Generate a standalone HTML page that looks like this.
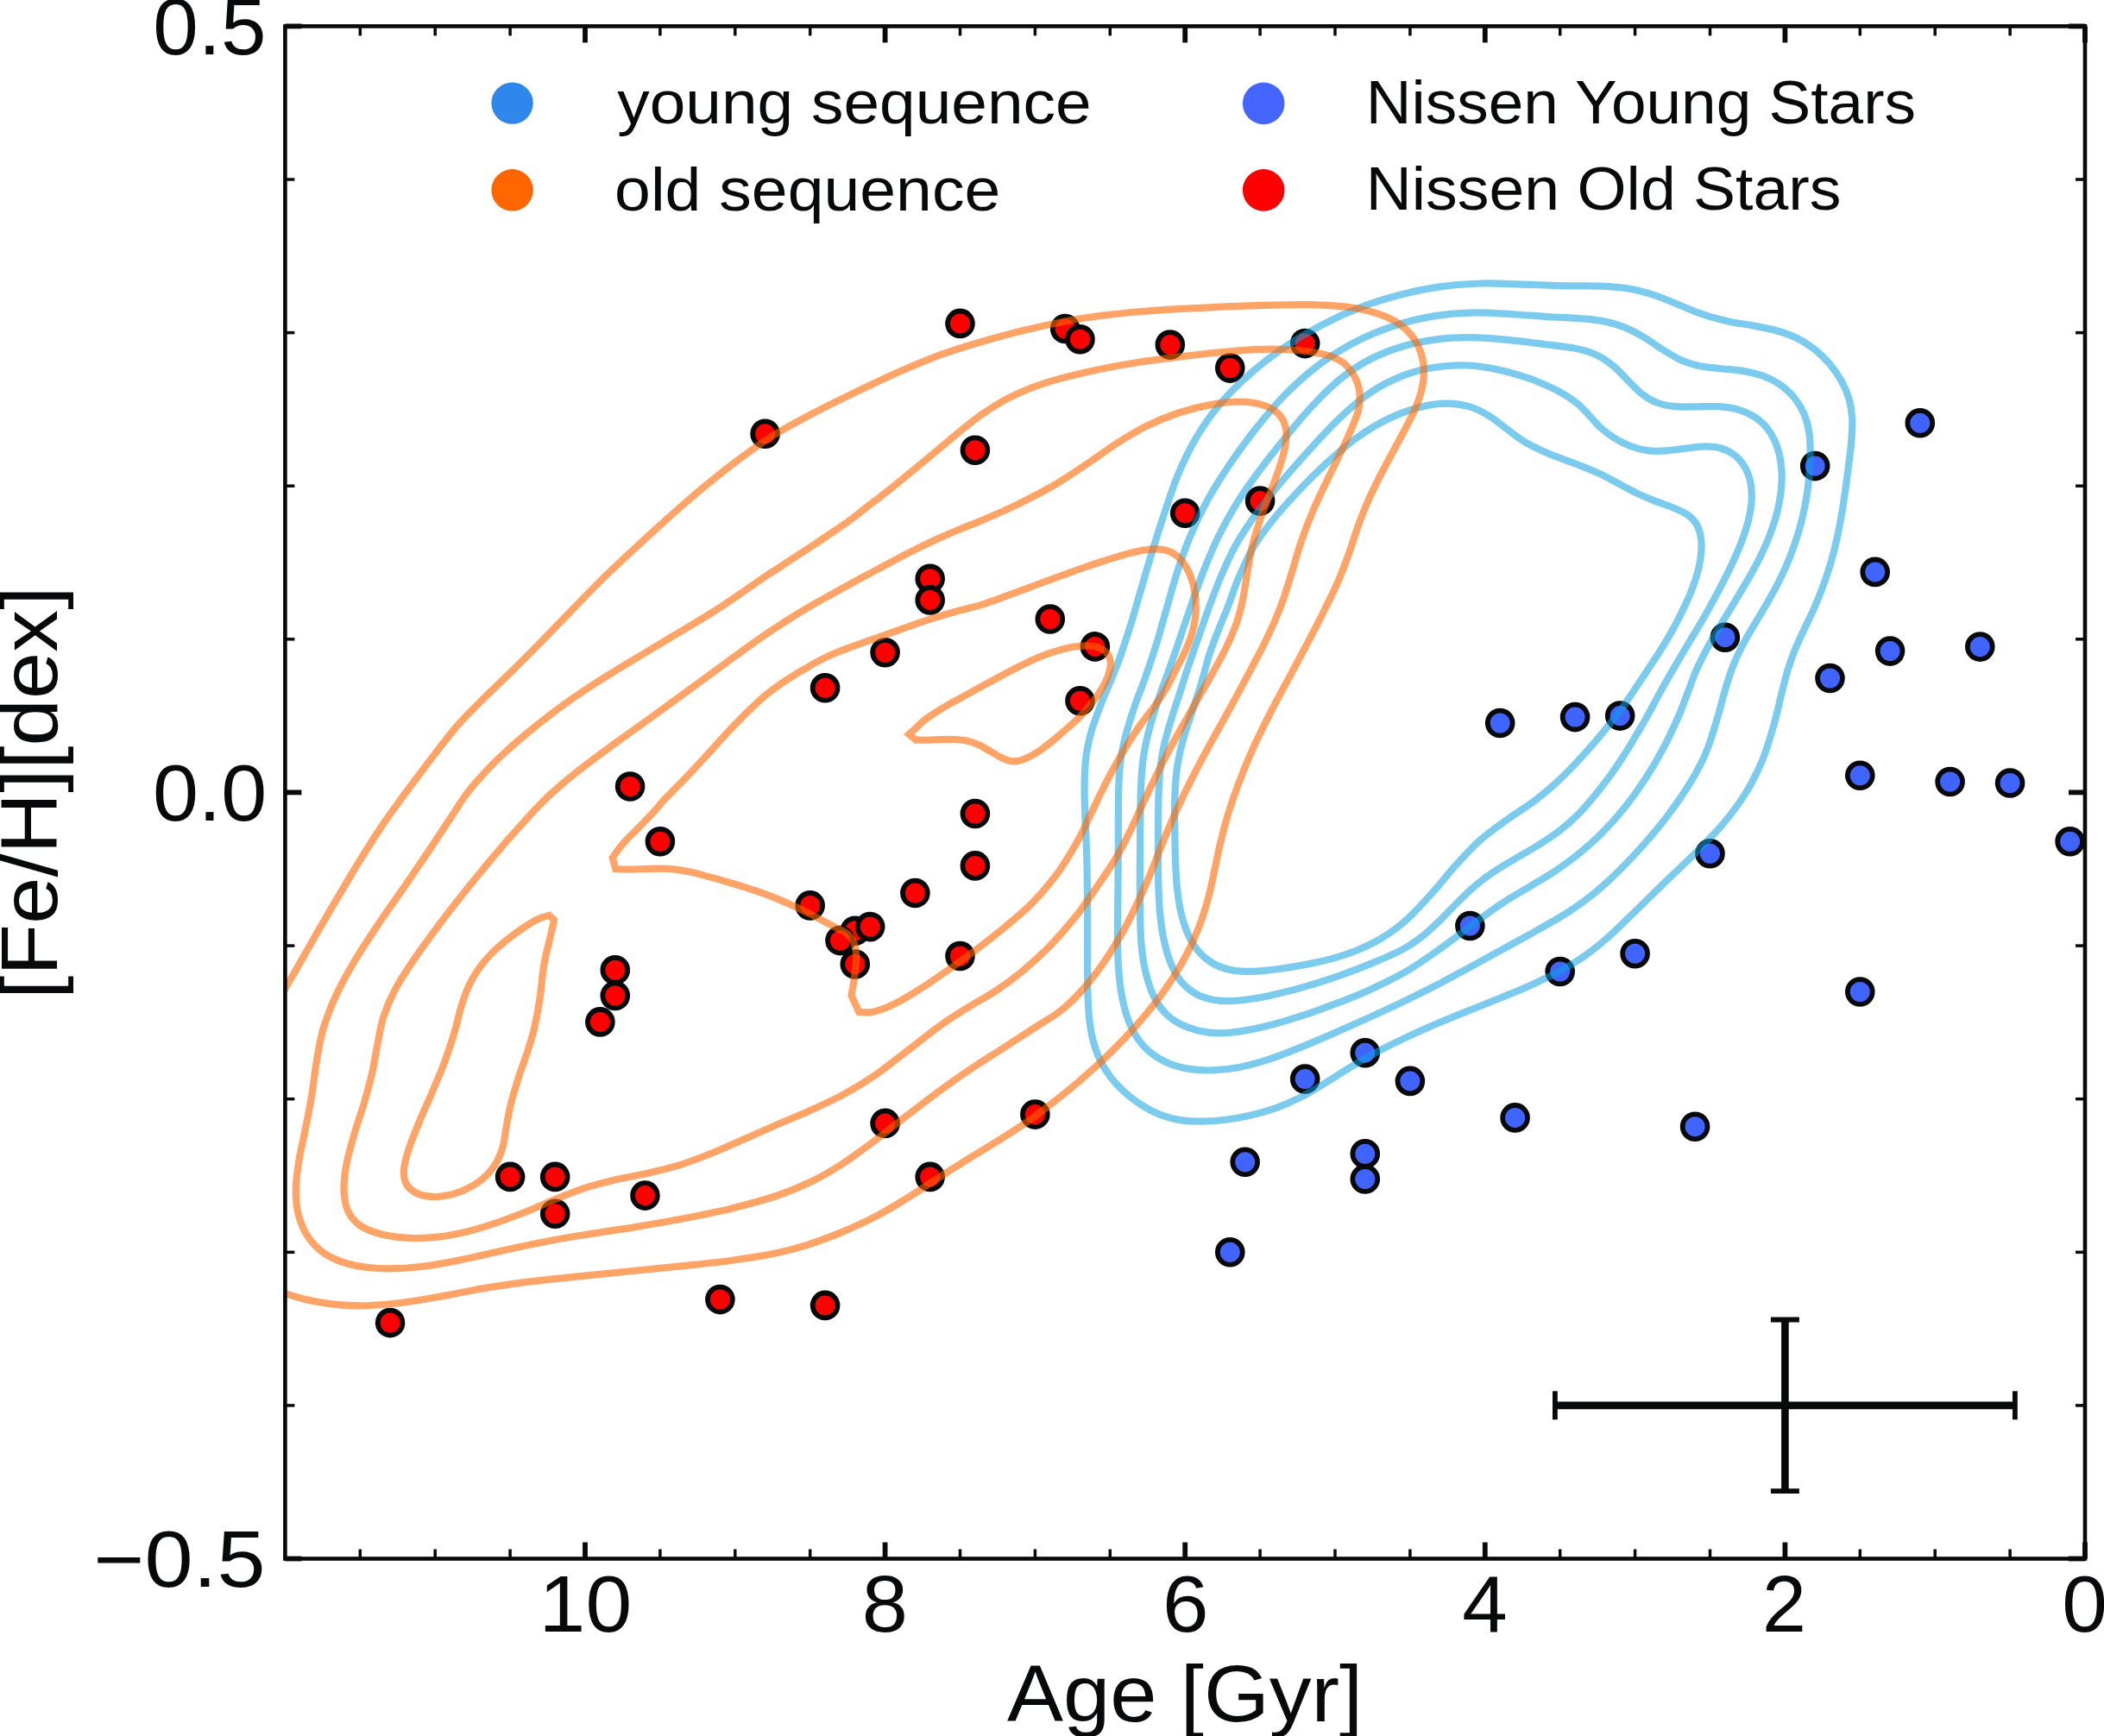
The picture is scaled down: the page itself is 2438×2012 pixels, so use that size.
<!DOCTYPE html>
<html lang="en"><head><meta charset="utf-8"><title>Age vs [Fe/H]</title>
<style>
html,body{margin:0;padding:0;background:#fff;}
body{width:2438px;height:2012px;overflow:hidden;}
svg{display:block;}
text{font-family:"Liberation Sans",sans-serif;fill:#08090b;}
.red circle{fill:#ff0000;stroke:#08090b;stroke-width:5.8;}
.blu circle{fill:#4064ff;stroke:#08090b;stroke-width:5.8;}
.oc path{fill:none;stroke:rgba(255,102,0,0.6);stroke-width:8.2;stroke-linejoin:miter;stroke-miterlimit:2;}
.bc path{fill:none;stroke:rgba(15,160,224,0.55);stroke-width:8.2;stroke-linejoin:round;}
.ax line,.ax rect{stroke:#08090b;fill:none;}
</style></head><body>
<svg width="2438" height="2012" viewBox="0 0 2438 2012" role="img" aria-label="Age versus [Fe/H] scatter plot with density contours">
<defs><clipPath id="axclip"><rect x="330.4" y="30.4" width="2085.6" height="1776.1"/></clipPath></defs>
<rect x="0" y="0" width="2438" height="2012" fill="#ffffff"/>
<g class="red" clip-path="url(#axclip)">
<circle cx="452.1" cy="1533.1" r="14.4"/>
<circle cx="591.1" cy="1363.9" r="14.4"/>
<circle cx="643.2" cy="1363.9" r="14.4"/>
<circle cx="643.2" cy="1406.8" r="14.4"/>
<circle cx="747.5" cy="1385.6" r="14.4"/>
<circle cx="695.4" cy="1184.4" r="14.4"/>
<circle cx="712.8" cy="1124.3" r="14.4"/>
<circle cx="712.8" cy="1154" r="14.4"/>
<circle cx="730.1" cy="911.5" r="14.4"/>
<circle cx="764.9" cy="975.3" r="14.4"/>
<circle cx="834.4" cy="1506.1" r="14.4"/>
<circle cx="956.1" cy="1512.9" r="14.4"/>
<circle cx="886.6" cy="502.8" r="14.4"/>
<circle cx="956.1" cy="797.3" r="14.4"/>
<circle cx="1025.6" cy="756.3" r="14.4"/>
<circle cx="938.7" cy="1049.4" r="14.4"/>
<circle cx="990.8" cy="1078.7" r="14.4"/>
<circle cx="973.5" cy="1090.1" r="14.4"/>
<circle cx="1008.2" cy="1074.1" r="14.4"/>
<circle cx="990.8" cy="1117.5" r="14.4"/>
<circle cx="1060.4" cy="1035" r="14.4"/>
<circle cx="1077.7" cy="670.7" r="14.4"/>
<circle cx="1077.7" cy="695.4" r="14.4"/>
<circle cx="1112.5" cy="374.9" r="14.4"/>
<circle cx="1129.9" cy="521.7" r="14.4"/>
<circle cx="1129.9" cy="943" r="14.4"/>
<circle cx="1129.9" cy="1003.4" r="14.4"/>
<circle cx="1112.5" cy="1108" r="14.4"/>
<circle cx="1025.6" cy="1301.9" r="14.4"/>
<circle cx="1077.7" cy="1363.9" r="14.4"/>
<circle cx="1199.4" cy="1291.6" r="14.4"/>
<circle cx="1216.8" cy="717.5" r="14.4"/>
<circle cx="1234.2" cy="381" r="14.4"/>
<circle cx="1251.5" cy="393.2" r="14.4"/>
<circle cx="1268.9" cy="749.4" r="14.4"/>
<circle cx="1251.5" cy="812.2" r="14.4"/>
<circle cx="1355.8" cy="399.6" r="14.4"/>
<circle cx="1373.2" cy="594.7" r="14.4"/>
<circle cx="1425.3" cy="426.6" r="14.4"/>
<circle cx="1460.1" cy="580.6" r="14.4"/>
<circle cx="1512.2" cy="398.1" r="14.4"/>
</g>
<g class="blu" clip-path="url(#axclip)">
<circle cx="1512.2" cy="1250.6" r="14.4"/>
<circle cx="1442.7" cy="1346.8" r="14.4"/>
<circle cx="1425.3" cy="1451.3" r="14.4"/>
<circle cx="1581.8" cy="1220.2" r="14.4"/>
<circle cx="1581.8" cy="1337.3" r="14.4"/>
<circle cx="1581.8" cy="1366.5" r="14.4"/>
<circle cx="1633.9" cy="1252.9" r="14.4"/>
<circle cx="1703.4" cy="1073" r="14.4"/>
<circle cx="1755.6" cy="1295.4" r="14.4"/>
<circle cx="1738.2" cy="838" r="14.4"/>
<circle cx="1807.7" cy="1126" r="14.4"/>
<circle cx="1825.1" cy="831.1" r="14.4"/>
<circle cx="1877.2" cy="829.6" r="14.4"/>
<circle cx="1894.6" cy="1105.2" r="14.4"/>
<circle cx="1964.1" cy="1305.7" r="14.4"/>
<circle cx="1981.5" cy="989.3" r="14.4"/>
<circle cx="1998.9" cy="738.7" r="14.4"/>
<circle cx="2103.2" cy="540.1" r="14.4"/>
<circle cx="2120.5" cy="786" r="14.4"/>
<circle cx="2155.3" cy="898.8" r="14.4"/>
<circle cx="2155.3" cy="1149.5" r="14.4"/>
<circle cx="2172.7" cy="662.9" r="14.4"/>
<circle cx="2190.1" cy="754.6" r="14.4"/>
<circle cx="2224.8" cy="490.3" r="14.4"/>
<circle cx="2259.6" cy="906" r="14.4"/>
<circle cx="2294.3" cy="749.6" r="14.4"/>
<circle cx="2329.1" cy="907.5" r="14.4"/>
<circle cx="2398.6" cy="975.3" r="14.4"/>
</g>
<g class="bc" clip-path="url(#axclip)">
<path d="M1259.1 988.1C1258.9 981.1 1258.5 972.8 1258.2 965C1257.9 957.2 1257.5 949 1257.2 941.1C1256.9 933.3 1256.6 925.6 1256.6 917.9C1256.6 910.2 1256.5 902.6 1257 894.9C1257.4 887.2 1257.9 879.7 1259.2 871.7C1260.5 863.7 1262 856.4 1264.8 846.9C1267.7 837.4 1271.4 827.3 1276.3 814.7C1281.2 802.1 1288.7 786.1 1294.2 771.4C1299.8 756.7 1304.7 741.5 1309.4 726.6C1314.1 711.7 1318.1 696.7 1322.5 682C1326.8 667.3 1330.9 652.7 1335.4 638.3C1339.8 623.9 1344 610.4 1349 595.6C1354 580.7 1359.1 564.2 1365.3 549.3C1371.6 534.5 1378.5 520.1 1386.5 506.6C1394.6 493.1 1403.4 480.5 1413.6 468.4C1423.8 456.3 1435.3 444.8 1447.8 433.8C1460.3 422.8 1474.3 412.1 1488.5 402.4C1502.8 392.7 1518.1 383.7 1533.1 375.9C1548.1 368 1563.5 361.1 1578.7 355.4C1593.9 349.6 1609.1 345 1624.3 341.2C1639.5 337.3 1654.6 334.2 1670.1 332.1C1685.6 330 1701.2 328.9 1717.3 328.5C1733.5 328.1 1751 329.2 1767 329.6C1783 330.1 1798.9 330.9 1813.6 331.3C1828.2 331.6 1842.5 331.1 1854.8 331.6C1867.1 332.2 1877 332.8 1887.2 334.5C1897.5 336.2 1906.7 338.8 1916.4 341.9C1926.1 345 1935.6 349.5 1945.2 353.3C1954.8 357.1 1964.4 361.5 1974 364.7C1983.6 367.9 1993.2 370.3 2002.8 372.4C2012.4 374.6 2022.1 375.7 2031.5 377.5C2040.8 379.3 2050.4 380.7 2058.9 383.2C2067.4 385.6 2075.2 388.4 2082.5 392C2089.9 395.6 2096.5 400 2102.8 405C2109 409.9 2114.8 415.8 2120 421.8C2125.1 427.9 2129.9 434.6 2133.6 441.3C2137.4 448 2140.3 454.8 2142.4 462C2144.5 469.2 2145.7 476.7 2146.2 484.5C2146.7 492.3 2146.1 500.2 2145.5 508.9C2144.9 517.5 2143.6 527 2142.4 536.3C2141.3 545.7 2140 555.4 2138.7 565C2137.3 574.6 2136 584.2 2134.4 593.8C2132.7 603.4 2131 613.1 2128.9 622.5C2126.9 632 2124.5 641.5 2121.9 650.7C2119.2 659.8 2116.4 668.5 2113.2 677.2C2110.1 686 2106.6 694.6 2102.9 703.1C2099.2 711.7 2094.9 720.2 2091 728.4C2087.2 736.7 2083.3 744.6 2080 752.8C2076.7 760.9 2073.9 768.9 2071.3 777.5C2068.7 786.1 2066.9 793.8 2064.3 804.2C2061.7 814.6 2059.2 827.1 2055.5 839.8C2051.9 852.5 2047.9 867.1 2042.5 880.2C2037.1 893.4 2030.8 906.3 2023.1 918.7C2015.5 931.2 2006.2 943.3 1996.6 954.9C1986.9 966.4 1976.1 977 1965 988.1C1953.9 999.3 1941.6 1010.5 1930 1021.8C1918.3 1033 1906.5 1044.8 1895.4 1055.6C1884.2 1066.4 1873.1 1077.6 1863 1086.5C1852.9 1095.4 1844.2 1102.4 1834.8 1108.9C1825.4 1115.5 1816.7 1120.5 1806.7 1125.9C1796.6 1131.3 1786.1 1136.2 1774.7 1141.4C1763.3 1146.5 1750.6 1151.6 1738.2 1156.7C1725.9 1161.8 1712.9 1166.8 1700.5 1171.9C1688 1176.9 1675.6 1181.9 1663.6 1187C1651.7 1192.1 1640.4 1197.1 1628.7 1202.6C1617 1208.1 1604.6 1214.3 1593.7 1220.2C1582.7 1226.1 1572.8 1232 1562.9 1238C1553 1244 1543.7 1250.4 1534.2 1256.1C1524.7 1261.9 1515.2 1267.7 1505.7 1272.4C1496.2 1277.2 1486.6 1281.3 1477.1 1284.7C1467.6 1288.1 1458.1 1290.7 1448.6 1292.8C1439.1 1295 1429.5 1296.6 1420.2 1297.7C1410.9 1298.9 1401.4 1299.6 1392.6 1299.7C1383.8 1299.8 1375.5 1299.4 1367.5 1298.1C1359.4 1296.8 1351.8 1294.8 1344.2 1291.9C1336.7 1288.9 1329.2 1284.9 1322.3 1280.5C1315.4 1276.1 1308.9 1271 1302.9 1265.5C1296.9 1260.1 1291.3 1254.3 1286.5 1248C1281.7 1241.6 1277.5 1234.7 1274.2 1227.5C1270.8 1220.3 1268.3 1212.7 1266.3 1204.7C1264.3 1196.7 1263.1 1188.6 1262.1 1179.4C1261.1 1170.2 1260.8 1160.5 1260.4 1149.6C1260.1 1138.7 1260.2 1126.1 1260.1 1113.9C1260.1 1101.6 1260.2 1088.6 1260.2 1076C1260.2 1063.5 1260.1 1050.1 1260 1038.7C1259.9 1027.3 1259.7 1015.8 1259.6 1007.4C1259.4 998.9 1259.4 995.2 1259.1 988.1Z"/>
<path d="M1295.8 978.2C1295.9 968.1 1295.9 957.7 1295.9 948C1296 938.2 1295.9 928.3 1296.1 919.5C1296.3 910.7 1296.5 903 1297.1 895C1297.8 887 1298.6 879.7 1300 871.7C1301.5 863.7 1303.3 856.1 1305.7 847.2C1308.2 838.4 1311.1 829 1314.7 818.5C1318.3 808.1 1323.2 796.7 1327.4 784.4C1331.7 772.1 1336.3 758.2 1340.5 744.7C1344.6 731.1 1348.4 716.9 1352.4 703.1C1356.4 689.3 1360 675.6 1364.4 662.1C1368.8 648.6 1373.1 635.8 1378.8 622.3C1384.4 608.8 1390.8 595.1 1398.3 581.3C1405.9 567.5 1414.7 553.4 1424 539.5C1433.4 525.6 1443.6 511.5 1454.3 497.9C1465.1 484.3 1476.5 470.3 1488.5 458C1500.6 445.7 1513.3 434.1 1526.6 424C1539.9 413.9 1553.9 405 1568.4 397.3C1583 389.7 1598.4 383.3 1613.9 378.1C1629.4 373 1645.7 369 1661.5 366.4C1677.3 363.7 1692.9 362.7 1708.8 362.4C1724.7 362.1 1741.6 363.7 1756.9 364.5C1772.1 365.4 1788 366.7 1800.2 367.5C1812.4 368.2 1820.8 368.3 1830.1 369C1839.4 369.8 1847.4 370.3 1855.9 371.9C1864.4 373.5 1872.9 375.7 1881.1 378.8C1889.2 381.9 1897.1 386.2 1904.7 390.7C1912.4 395.1 1919.9 401 1927.2 405.4C1934.4 409.9 1941.1 414.4 1948.1 417.5C1955.2 420.6 1962 422.5 1969.7 424.2C1977.4 425.8 1986 426.2 1994.2 427.2C2002.5 428.2 2011.3 428.6 2019.3 429.9C2027.3 431.3 2035.1 432.8 2042.3 435.4C2049.4 438 2056.3 441.4 2062.4 445.6C2068.5 449.9 2074.3 455.1 2078.9 460.8C2083.6 466.5 2087.5 472.9 2090.4 479.7C2093.3 486.6 2095.2 494 2096.4 502C2097.6 509.9 2097.7 518.1 2097.6 527.5C2097.5 536.8 2096.7 547.9 2095.7 558C2094.6 568.1 2093.2 578.1 2091.2 587.9C2089.3 597.7 2086.9 607.2 2084.1 616.7C2081.2 626.2 2077.9 635.7 2074.3 644.9C2070.7 654 2066.8 662.7 2062.5 671.5C2058.2 680.2 2053.4 688.8 2048.5 697.5C2043.6 706.1 2038.2 714.8 2033.1 723.4C2028.1 732 2022.8 740.7 2018.4 749.3C2014 757.9 2010.2 766.3 2006.9 775C2003.6 783.7 2001.3 791.9 1998.5 801.3C1995.8 810.6 1993.3 821 1990.3 831.2C1987.3 841.4 1983.7 853.5 1980.5 862.5C1977.3 871.4 1975.3 876.4 1971 884.8C1966.8 893.2 1961.5 902.8 1955.1 912.8C1948.7 922.9 1940.9 934.2 1932.6 945C1924.4 955.9 1914.8 967.3 1905.5 977.9C1896.3 988.4 1886.6 998.7 1877.1 1008.1C1867.6 1017.5 1858.3 1026.3 1848.4 1034.4C1838.5 1042.5 1828.8 1049.4 1817.7 1056.7C1806.6 1063.9 1794.2 1070.7 1781.9 1077.7C1769.6 1084.7 1756.7 1091.6 1744.1 1098.6C1731.4 1105.6 1718.7 1112.6 1706 1119.5C1693.3 1126.4 1680.8 1133.3 1667.8 1140.1C1654.7 1146.8 1641.6 1153.4 1627.6 1160.1C1613.7 1166.9 1598 1174 1584.1 1180.4C1570.1 1186.7 1557 1192.6 1543.9 1198.3C1530.9 1204 1518.3 1209.4 1505.8 1214.4C1493.3 1219.4 1480.8 1224.4 1469.1 1228.2C1457.5 1231.9 1446.5 1234.9 1436 1237C1425.5 1239 1415.5 1240.1 1405.9 1240.4C1396.3 1240.7 1387.3 1240.3 1378.5 1238.9C1369.7 1237.5 1361 1235.2 1353.3 1231.9C1345.6 1228.6 1338.5 1224.3 1332.5 1219.3C1326.4 1214.2 1321.4 1208.4 1317 1201.7C1312.6 1195 1309.2 1187.3 1306.3 1179C1303.3 1170.7 1301.2 1161.2 1299.5 1152C1297.8 1142.7 1296.9 1133.3 1296.2 1123.4C1295.4 1113.4 1295.2 1104 1295 1092.2C1294.9 1080.5 1295.1 1066.7 1295.2 1052.8C1295.3 1039 1295.5 1021.4 1295.6 1009C1295.7 996.6 1295.8 988.4 1295.8 978.2Z"/>
<path d="M1321.1 978.2C1321.1 968.1 1321.2 957.7 1321.3 948C1321.4 938.2 1321.5 928.3 1321.8 919.5C1322.1 910.7 1322.3 903 1323 895C1323.7 887 1324.5 879.7 1325.8 871.7C1327.2 863.7 1328.8 856.1 1331.2 847.1C1333.5 838 1336.5 827.9 1340 817.4C1343.4 806.9 1348 794.5 1351.7 784.1C1355.4 773.7 1358.4 765.5 1362.1 754.9C1365.8 744.2 1369.9 731.9 1373.8 720.3C1377.8 708.7 1381.9 696.2 1385.9 685.2C1389.9 674.2 1393.2 665.2 1397.6 654.4C1402.1 643.5 1406.9 631.7 1412.7 620C1418.5 608.3 1424.9 596.5 1432.5 584.3C1440.1 572.1 1448.9 559.6 1458.2 547C1467.5 534.3 1477.9 521.2 1488.4 508.4C1498.8 495.6 1510 481.8 1520.8 470.3C1531.6 458.8 1542 448.2 1553 439.3C1564.1 430.3 1575.4 422.8 1587.4 416.5C1599.3 410.3 1611.8 405.5 1624.5 401.7C1637.1 397.8 1650 395.3 1663.3 393.6C1676.6 391.8 1690.4 391.1 1704.3 391.2C1718.2 391.3 1732.6 392.6 1746.8 393.9C1761 395.2 1776.4 397.3 1789.4 399C1802.5 400.6 1815.2 401.8 1825.2 403.8C1835.2 405.9 1842.3 407.9 1849.7 411.3C1857.1 414.7 1863.3 419.3 1869.5 424.3C1875.7 429.3 1881.3 436.1 1886.9 441.5C1892.4 446.9 1897.2 452.5 1902.7 456.7C1908.3 460.9 1913.8 464.3 1920.2 466.8C1926.6 469.2 1933.4 470.5 1941 471.2C1948.5 472 1957.2 471.4 1965.4 471.3C1973.7 471.3 1982.5 470.6 1990.5 471.2C1998.5 471.7 2006.3 472.5 2013.4 474.5C2020.5 476.5 2027.3 479.4 2033.2 483.2C2039.1 487.1 2044.4 491.9 2048.6 497.5C2052.9 503.2 2056.3 509.9 2058.9 517C2061.5 524 2063.2 531.8 2064 539.9C2064.9 548.1 2064.9 556.9 2064.1 565.7C2063.3 574.6 2061.5 584.1 2059.4 593.1C2057.2 602.1 2054.2 610.9 2050.9 619.6C2047.6 628.4 2043.7 636.9 2039.5 645.6C2035.2 654.3 2030.4 662.8 2025.4 671.6C2020.5 680.3 2015 689.1 2009.6 698.2C2004.3 707.2 1998.4 716.6 1993.1 725.6C1987.8 734.6 1982.4 743.5 1977.8 752C1973.2 760.6 1969 769 1965.4 777.2C1961.8 785.4 1959.6 792.5 1956.2 801.2C1952.8 809.9 1950 818.7 1945.3 829.5C1940.6 840.2 1934.6 853.5 1928.2 865.6C1921.8 877.8 1914.3 890.8 1906.6 902.5C1899 914.2 1890.8 925.6 1882.5 936C1874.2 946.3 1865.8 955.8 1857 964.7C1848.2 973.5 1838.9 981.7 1829.8 989.2C1820.7 996.7 1811.6 1003.1 1802.2 1009.4C1792.8 1015.7 1783.7 1020.8 1773.5 1027C1763.3 1033.2 1751.5 1039.7 1740.8 1046.7C1730.2 1053.7 1720.9 1060.7 1709.7 1069C1698.6 1077.2 1687.3 1086.5 1673.9 1095.9C1660.6 1105.4 1644.7 1116.9 1629.7 1125.7C1614.8 1134.4 1598.6 1141.9 1584.3 1148.4C1570 1154.9 1557 1159.8 1543.9 1164.7C1530.8 1169.7 1518.3 1174.1 1505.8 1178.1C1493.4 1182.1 1480.6 1185.9 1469.2 1188.8C1457.8 1191.6 1447.1 1193.9 1437.4 1195.4C1427.8 1196.8 1419.5 1197.4 1411.3 1197.3C1403.1 1197.1 1395.6 1196.1 1388.4 1194.4C1381.2 1192.7 1374.2 1190.2 1368 1187C1361.8 1183.8 1356.1 1180 1351.2 1175.1C1346.3 1170.3 1342.1 1164.6 1338.6 1158C1335 1151.5 1332.2 1143.7 1329.9 1135.8C1327.5 1127.9 1325.8 1119.3 1324.4 1110.6C1323.1 1102 1322.4 1094 1321.8 1084C1321.3 1074 1321.2 1063.1 1321 1050.5C1320.9 1038 1320.9 1020.8 1320.9 1008.8C1320.9 996.7 1321 988.4 1321.1 978.2Z"/>
<path d="M1342 977.8C1342 968.4 1342 957.7 1342.1 948C1342.2 938.2 1342.3 928.3 1342.6 919.5C1342.9 910.7 1343.2 903 1344 895C1344.8 887 1345.7 879.6 1347.2 871.7C1348.7 863.7 1350.7 855.9 1353.1 847.3C1355.5 838.7 1358.7 828.9 1361.5 820.1C1364.3 811.4 1367.3 802.4 1369.8 794.8C1372.2 787.1 1373.4 782.8 1376.3 774.2C1379.2 765.7 1383 755.2 1387 743.7C1391.1 732.2 1395.7 718.1 1400.5 705.2C1405.2 692.4 1410.1 678.9 1415.4 666.5C1420.8 654.1 1425.8 642.7 1432.5 630.8C1439.2 619 1446.7 607.7 1455.4 595.6C1464.1 583.6 1474.3 571 1484.7 558.5C1495.2 546 1506.7 533 1517.9 520.7C1529.1 508.4 1540.6 495.6 1552.2 484.7C1563.7 473.8 1575.2 463.5 1587.3 455.4C1599.3 447.3 1611.9 440.9 1624.4 435.9C1636.9 431 1649.6 427.8 1662.3 425.8C1675 423.7 1687.7 423 1700.3 423.5C1713 424 1725.9 426.2 1738.2 428.9C1750.5 431.6 1763.2 435.5 1774.3 439.4C1785.4 443.4 1795.8 448 1804.5 452.6C1813.3 457.2 1820.7 462.2 1826.9 467C1833 471.8 1836.8 476.7 1841.4 481.5C1846 486.2 1849.6 491 1854.5 495.5C1859.5 499.9 1865.2 504.3 1871.2 507.9C1877.2 511.6 1884 515 1890.5 517.5C1897.1 519.9 1903.9 521.6 1910.7 522.4C1917.5 523.2 1924.4 522.8 1931.5 522.4C1938.7 521.9 1946.5 520.4 1953.8 519.6C1961.1 518.8 1968.8 517.5 1975.4 517.4C1982.1 517.4 1988.2 517.8 1993.9 519.5C1999.7 521.2 2005.3 524 2009.9 527.5C2014.5 531.1 2018.6 535.7 2021.6 541C2024.7 546.3 2027 552.9 2028.4 559.4C2029.7 566 2030 572.9 2029.6 580.2C2029.2 587.5 2027.9 595.2 2025.9 603.2C2023.9 611.3 2021 619.8 2017.8 628.5C2014.5 637.1 2010.5 645.9 2006.3 655C2002 664.1 1997.2 673.7 1992.2 683.2C1987.3 692.6 1981.9 702.3 1976.5 711.9C1971 721.5 1965.3 731.1 1959.5 740.7C1953.8 750.4 1947.9 760 1942.2 769.9C1936.4 779.8 1930.6 789.7 1925 799.9C1919.3 810.1 1914 820.7 1908.2 831.1C1902.4 841.4 1895 853.8 1890 862.1C1885 870.5 1882.1 875 1878 881.1C1874 887.3 1870.5 892.4 1865.6 899.1C1860.6 905.8 1854.5 914 1848.4 921.4C1842.4 928.7 1836.1 936.4 1829.4 943.2C1822.7 950 1816.1 955.9 1808.2 962C1800.3 968.2 1790.9 974.2 1781.9 979.9C1772.8 985.6 1762.9 990.9 1753.8 996.4C1744.7 1001.8 1735.4 1007.3 1727.5 1012.7C1719.6 1018.2 1713 1023.4 1706.2 1029.3C1699.5 1035.1 1693.4 1041.5 1687 1047.8C1680.6 1054.1 1674.4 1061.1 1668 1067.2C1661.6 1073.4 1655.7 1079.2 1648.6 1084.7C1641.4 1090.3 1634.6 1095.3 1625 1100.5C1615.4 1105.7 1602.9 1110.9 1591 1115.9C1579 1120.8 1565.8 1125.9 1553.2 1130.4C1540.6 1134.9 1527.7 1139 1515.4 1142.6C1503.1 1146.2 1490.6 1149.4 1479.6 1151.9C1468.7 1154.4 1459 1156.4 1449.8 1157.8C1440.6 1159.2 1432.5 1160.1 1424.6 1160.2C1416.6 1160.2 1409.1 1159.6 1402.2 1158C1395.3 1156.4 1388.9 1153.9 1383.3 1150.4C1377.6 1146.9 1372.6 1142.5 1368.2 1137.1C1363.9 1131.7 1360.4 1125.3 1357.3 1118.1C1354.2 1110.9 1351.7 1102.6 1349.7 1094C1347.6 1085.3 1346.1 1075.9 1344.9 1066.2C1343.7 1056.6 1343.1 1046.3 1342.7 1036C1342.2 1025.7 1342.1 1014.1 1342 1004.3C1341.9 994.6 1342 987.2 1342 977.8Z"/>
<path d="M1361.5 977.6C1361.3 968.6 1361.1 957.6 1361.1 948C1361.1 938.3 1361.1 928.3 1361.5 919.5C1361.8 910.7 1362.3 903 1363.2 895C1364.2 887 1365.5 879.6 1367.3 871.7C1369 863.8 1371.3 855.9 1373.9 847.4C1376.5 838.9 1379.9 829.3 1382.7 820.9C1385.4 812.5 1388.2 804.2 1390.4 797.1C1392.6 790.1 1393.9 785.1 1395.7 778.7C1397.5 772.3 1398.9 766.1 1401.3 758.6C1403.7 751.1 1406.8 742.9 1410.3 733.9C1413.8 724.8 1418.2 715 1422.4 704.3C1426.6 693.6 1430.4 681.1 1435.3 669.6C1440.2 658.2 1445.1 646.6 1451.6 635.6C1458.1 624.5 1465.7 614.2 1474.4 603.3C1483.1 592.4 1493.3 581.1 1503.7 570C1514.2 558.9 1525.6 547.3 1537 536.9C1548.4 526.5 1560 516.1 1572 507.5C1584 498.9 1596.8 491.2 1609 485.3C1621.2 479.4 1633.9 474.9 1645.1 472C1656.3 469.1 1666.6 467.8 1676.3 467.7C1685.9 467.6 1694.7 469 1703 471.4C1711.3 473.8 1718.7 477.9 1725.9 482.2C1733.1 486.5 1739.2 492.3 1746.1 497.3C1753 502.3 1759.1 507.6 1767.2 512.4C1775.3 517.1 1784.6 521.6 1794.4 525.8C1804.3 530.1 1816.6 534 1826.3 537.8C1836 541.6 1844.4 544.8 1852.6 548.6C1860.8 552.3 1868.1 556.5 1875.3 560.3C1882.6 564.1 1889.3 568.1 1896.2 571.4C1903.2 574.7 1910.1 577.6 1917 580.4C1923.9 583.2 1931.6 585.4 1937.8 588C1944.1 590.6 1950.1 593 1954.6 596C1959.2 599.1 1962.6 602.4 1965.2 606.5C1967.9 610.6 1969.4 615.4 1970.5 620.6C1971.5 625.8 1971.8 631.6 1971.4 637.8C1971.1 644.1 1970.1 650.8 1968.5 657.9C1966.8 665 1964.4 672.6 1961.6 680.3C1958.8 688 1955.4 695.8 1951.5 703.9C1947.7 712.1 1943.3 720.7 1938.6 729.2C1933.9 737.7 1928.5 746.6 1923.3 754.9C1918 763.3 1912.4 771.6 1907.4 779.3C1902.3 787 1898.2 793.3 1892.9 801C1887.7 808.7 1882.8 816.4 1876 825.5C1869.1 834.6 1860.2 845.7 1852 855.4C1843.8 865.1 1835 874.9 1826.8 883.7C1818.5 892.5 1810.6 900.6 1802.3 908.1C1794.1 915.6 1786.4 922 1777.1 928.9C1767.9 935.8 1756.9 942.4 1746.8 949.6C1736.7 956.9 1726.3 963.9 1716.6 972.4C1707 980.9 1698.2 990.4 1688.9 1000.6C1679.6 1010.7 1670.6 1022.6 1660.9 1033.4C1651.2 1044.2 1640.7 1056.2 1630.7 1065.2C1620.7 1074.2 1610.8 1081.2 1601 1087.3C1591.2 1093.3 1582 1097.5 1572 1101.5C1562.1 1105.6 1552.3 1108.6 1541.3 1111.6C1530.2 1114.5 1517.5 1117.1 1505.7 1119.2C1493.8 1121.3 1480.9 1123.2 1470.3 1124.3C1459.6 1125.4 1450 1126 1441.7 1125.8C1433.4 1125.5 1427 1124.7 1420.4 1122.8C1413.8 1120.9 1407.7 1118.2 1402.2 1114.5C1396.6 1110.8 1391.5 1106.2 1387 1100.5C1382.6 1094.9 1378.8 1087.9 1375.6 1080.5C1372.5 1073.1 1370 1064.6 1368 1055.9C1366.1 1047.3 1364.9 1037.6 1363.9 1028.6C1362.9 1019.7 1362.7 1010.6 1362.2 1002.1C1361.8 993.6 1361.7 986.6 1361.5 977.6Z"/>
</g>
<g class="oc" clip-path="url(#axclip)">
<path d="M311 1180C314.2 1174.4 323.7 1157.6 330 1146.5C336.3 1135.4 342.7 1124.5 349 1113.4C355.3 1102.3 361.7 1091.1 368 1080C374.3 1069 380.7 1058.2 387 1047.4C393.3 1036.6 399.7 1025.8 406 1015.3C412.4 1004.7 418.7 994.2 425.1 984.2C431.4 974.1 437.8 964.3 444.1 954.9C450.4 945.6 456.8 936.8 463.1 928.1C469.4 919.4 475.3 911.7 481.9 902.9C488.5 894.1 494.6 885.7 502.6 875.4C510.6 865.1 520.4 851.9 529.7 841.2C539.1 830.5 548.7 821.1 558.7 811.1C568.6 801.1 578.3 792.4 589.4 781.5C600.6 770.5 613 758.1 625.3 745.7C637.6 733.2 650.5 719.5 663.1 706.6C675.7 693.6 688.6 680.2 700.9 668.1C713.2 656.1 725.4 644.9 737 634.2C748.5 623.5 758.5 614.3 770.1 604C781.7 593.6 793.7 582.8 806.4 572.1C819.2 561.4 832.2 550.5 846.5 539.7C860.8 528.9 876.2 517.2 892 507.1C907.9 497.1 924.2 488.5 941.5 479.3C958.9 470.2 978.2 460.9 996 452.3C1013.8 443.8 1032.5 435 1048.4 428.1C1064.3 421.2 1077 416 1091.4 410.7C1105.8 405.5 1118.4 401.5 1134.9 396.7C1151.4 391.9 1170.2 386.6 1190.3 382C1210.3 377.3 1232.9 372.3 1255 368.8C1277.1 365.3 1299.5 363 1322.9 361C1346.4 358.9 1372.1 357.8 1395.8 356.6C1419.5 355.4 1444.8 354.4 1465.2 353.9C1485.5 353.3 1502.7 353 1517.9 353.2C1533.1 353.4 1545.2 354 1556.2 355.1C1567.2 356.2 1575.5 357.7 1583.8 359.7C1592.1 361.8 1599.3 364.3 1605.9 367.1C1612.4 369.9 1618.1 373.1 1623 376.6C1627.8 380.1 1631.6 383.9 1635.1 388C1638.5 392.2 1641.3 396.6 1643.5 401.4C1645.7 406.1 1647.4 411.2 1648.5 416.6C1649.5 421.9 1650.1 427.7 1649.9 433.6C1649.7 439.6 1648.8 445.9 1647.3 452.1C1645.7 458.4 1643.5 464.7 1640.9 471.1C1638.2 477.6 1635 483.9 1631.6 490.7C1628.2 497.5 1624.3 504.5 1620.3 512C1616.3 519.5 1611.8 527.7 1607.5 535.8C1603.2 543.9 1598.8 552.2 1594.7 560.4C1590.7 568.6 1586.9 576.6 1583.3 585C1579.7 593.4 1576.6 601.4 1573.2 610.8C1569.8 620.2 1566.7 631.2 1563 641.5C1559.3 651.8 1555.5 662.1 1551 672.7C1546.4 683.3 1541.4 693.5 1535.7 705C1530 716.6 1523.5 729.2 1516.7 742.2C1510 755.2 1502.3 769.2 1494.9 783.1C1487.5 796.9 1479.6 811.3 1472.4 825.4C1465.2 839.5 1457.8 854.4 1451.8 867.6C1445.8 880.9 1441 892.8 1436.4 904.9C1431.8 916.9 1427.7 928.6 1424.1 940C1420.5 951.4 1417.6 962.7 1415 973.3C1412.4 983.8 1410.7 992.5 1408.4 1003.2C1406 1013.9 1404 1025.9 1401 1037.3C1397.9 1048.8 1394.5 1060.6 1390.2 1072.1C1385.8 1083.6 1380.7 1095.1 1374.8 1106.4C1368.9 1117.7 1362 1129 1354.8 1139.7C1347.6 1150.5 1339.8 1160.8 1331.6 1171C1323.4 1181.2 1314.4 1191.3 1305.5 1200.9C1296.5 1210.6 1286.7 1220.2 1277.7 1228.8C1268.6 1237.4 1259.6 1245.2 1251.2 1252.5C1242.7 1259.8 1236 1265.2 1227 1272.4C1218 1279.5 1207.9 1287.6 1197.1 1295.3C1186.3 1303 1173.5 1311.3 1162.2 1318.5C1150.9 1325.7 1139.9 1332.2 1129.2 1338.7C1118.6 1345.3 1107.8 1352 1098.4 1357.9C1089.1 1363.9 1082.3 1368.6 1073.2 1374.4C1064.1 1380.3 1054.1 1387 1043.8 1393.1C1033.6 1399.3 1023.1 1405.6 1011.6 1411.4C1000.1 1417.3 987.3 1423.1 974.7 1428.4C962 1433.6 949 1438.5 935.5 1442.8C922 1447 908.9 1450.5 893.8 1453.6C878.7 1456.6 862.3 1458.9 844.8 1461.2C827.3 1463.5 807.4 1465.4 788.8 1467.4C770.2 1469.3 750.4 1471.3 733.1 1473C715.8 1474.8 699.9 1476.4 684.9 1477.9C670 1479.4 657 1480.7 643.6 1482.1C630.1 1483.6 617.3 1484.8 604.2 1486.6C591.1 1488.3 578.1 1490.2 565.1 1492.4C552 1494.6 538.9 1497.3 525.9 1499.7C512.9 1502.1 499.6 1504.7 486.9 1506.7C474.3 1508.7 461.4 1510.4 450 1511.5C438.6 1512.6 428.5 1513.3 418.3 1513.4C408.1 1513.4 398.6 1512.9 388.8 1511.9C379 1510.9 369 1509.3 359.6 1507.3C350.1 1505.2 340.5 1502.3 331.9 1499.6C323.3 1496.9 312 1492.4 308 1491"/>
<path d="M342.8 1378C342.9 1367.2 344.7 1355.7 346.6 1343.8C348.5 1332 351.8 1319.2 354.2 1306.7C356.7 1294.2 359.3 1281.5 361.3 1268.8C363.4 1256.1 364.5 1243.5 366.7 1230.8C368.9 1218.1 370.7 1205.6 374.4 1192.7C378.2 1179.9 383.1 1167.2 389.3 1153.7C395.6 1140.3 403.4 1126.2 411.9 1112C420.5 1097.7 430.7 1082.7 440.4 1068.1C450.2 1053.5 460.7 1039.2 470.7 1024.6C480.7 1010 491.4 994.1 500.5 980.6C509.6 967 518.7 952.9 525.2 943.2C531.6 933.5 533.8 929.3 539 922.4C544.1 915.4 549.4 909 556.1 901.5C562.8 894 570.5 885.8 579.3 877.4C588 869.1 597.7 860.5 608.6 851.5C619.4 842.5 632 832.5 644.3 823.3C656.5 814.2 669.5 805.2 682.1 796.9C694.7 788.5 707.4 780.9 720.1 773.1C732.8 765.3 745.6 757.7 758 750.3C770.5 742.8 783.3 735.2 795 728.2C806.6 721.2 817.5 714.8 827.7 708.2C838 701.7 846.5 695.8 856.5 689C866.5 682.2 878.2 673.9 887.9 667.4C897.7 660.9 906.3 655.5 915.1 649.7C923.9 643.9 932.2 638.5 940.8 632.8C949.4 627.1 958.8 620.8 966.6 615.5C974.4 610.3 981.2 605.7 987.5 601C993.9 596.4 997.6 593 1004.5 587.6C1011.4 582.2 1020.2 575.8 1028.9 568.8C1037.7 561.9 1047.6 553.6 1057 545.8C1066.4 538.1 1076.1 530.1 1085.5 522.4C1094.8 514.7 1104.1 506.6 1113 499.4C1121.9 492.3 1129.8 485.7 1139 479.4C1148.3 473.1 1157 467.2 1168.4 461.4C1179.8 455.7 1191.8 450.2 1207.5 445.1C1223.1 440 1243.5 434.9 1262.2 430.6C1281 426.4 1300.9 422.8 1320 419.8C1339 416.8 1358.5 414.5 1376.7 412.4C1394.9 410.2 1413.5 408.1 1429.4 406.9C1445.2 405.6 1458.8 404.8 1471.9 404.7C1485 404.6 1497.8 405.4 1508.1 406.4C1518.4 407.4 1527 409.1 1533.6 410.6C1540.3 412.1 1544.1 413.6 1548 415.4C1552 417.1 1554.6 418.8 1557.4 421.1C1560.2 423.3 1562.6 426.3 1564.8 429.1C1566.9 431.9 1568.8 434.8 1570.4 437.9C1571.9 441 1573.2 443.9 1574.1 447.7C1575 451.5 1575.8 455.9 1575.7 460.5C1575.7 465.1 1575.4 469.8 1574 475.4C1572.6 481 1570.4 486.4 1567.2 494.1C1564 501.8 1559.5 511.7 1554.8 521.8C1550 532 1544.1 543.6 1538.7 554.9C1533.3 566.3 1527.4 577.9 1522.2 590C1517.1 602 1512.2 614.6 1507.9 627.1C1503.6 639.6 1500.4 652.3 1496.4 665C1492.4 677.7 1488.8 690.3 1483.9 703.1C1479 715.9 1473.1 728.9 1466.9 741.9C1460.6 755 1453 769 1446.3 781.6C1439.7 794.2 1432.9 806.6 1426.9 817.8C1420.8 828.9 1415.3 838.6 1409.8 848.6C1404.3 858.6 1399.1 868 1393.9 877.6C1388.8 887.2 1383.8 896.8 1379 906.4C1374.2 916 1369.5 925.7 1365.1 935.2C1360.7 944.7 1356.4 954.7 1352.6 963.5C1348.9 972.3 1345.6 980.6 1342.7 988.1C1339.7 995.5 1338.5 999.3 1334.8 1008.3C1331.1 1017.2 1325.9 1029.8 1320.4 1041.5C1314.9 1053.3 1308.3 1066.8 1301.7 1078.7C1295 1090.6 1288.1 1102.1 1280.6 1113C1273.2 1123.9 1265.4 1134.4 1257.1 1144C1248.8 1153.5 1239.8 1162.7 1230.7 1170.1C1221.6 1177.6 1213 1182 1202.5 1188.8C1192.1 1195.7 1179.4 1203.8 1168.1 1211.1C1156.9 1218.4 1144.6 1226.1 1134.8 1232.4C1125.1 1238.8 1118.3 1243.2 1109.5 1249.3C1100.8 1255.4 1091.7 1262.1 1082.4 1269C1073.1 1275.9 1063 1283.7 1053.8 1290.8C1044.6 1297.8 1035.7 1304.9 1027.2 1311.5C1018.6 1318.1 1011.1 1323.9 1002.4 1330.3C993.6 1336.7 984.4 1343.6 974.5 1349.9C964.5 1356.3 954.8 1362.4 942.6 1368.3C930.3 1374.3 917 1380.1 901.1 1385.5C885.2 1390.9 865.7 1396.1 847.1 1400.7C828.5 1405.2 807.9 1409.2 789.3 1412.8C770.7 1416.4 752.1 1419.4 735.7 1422.1C719.3 1424.9 706.6 1426.6 690.9 1429.1C675.2 1431.6 658.4 1434 641.4 1437.2C624.4 1440.3 606.1 1444.2 588.7 1448C571.4 1451.7 553.7 1456.3 537.3 1459.6C520.8 1462.9 505.2 1466 490 1467.8C474.9 1469.6 459.8 1470.5 446.2 1470.3C432.6 1470 419.6 1468.8 408.3 1466.1C397 1463.4 386.9 1459.6 378.4 1454.3C369.9 1449 363 1442 357.5 1434.3C352.1 1426.7 348.4 1417.7 345.9 1408.3C343.4 1398.9 342.7 1388.7 342.8 1378Z"/>
<path d="M398.6 1380.6C398.2 1371.8 399.2 1361.4 401.2 1350.4C403.2 1339.3 407 1326.5 410.5 1314.3C414 1302.2 418.7 1289.4 422.2 1277.4C425.6 1265.4 428.9 1253.8 431.4 1242.4C434 1231 435.4 1219.8 437.6 1209C439.8 1198.2 441.2 1188.1 444.6 1177.6C448.1 1167.1 452.3 1157.1 458.3 1146C464.3 1134.9 472 1123.3 480.5 1110.9C488.9 1098.5 499.4 1084.3 508.8 1071.7C518.3 1059.1 528.8 1045.7 537 1035.3C545.3 1024.9 552.1 1016.7 558.3 1009.1C564.5 1001.6 569.1 996.1 574.1 990.1C579.2 984.1 583.7 978.7 588.6 973.1C593.4 967.6 598.1 962.3 603.2 956.7C608.3 951.1 613.3 945.5 619.1 939.4C625 933.3 630.3 927.4 638.3 920.1C646.3 912.8 654.6 905.5 667 895.7C679.4 886 695.8 873.9 712.5 861.6C729.3 849.4 748.8 835.7 767.4 822.2C786 808.7 805.6 794.3 824.1 780.8C842.6 767.3 862.3 752.5 878.3 741.3C894.4 730.2 909.4 720.6 920.4 713.7C931.3 706.8 935.8 704.4 943.8 699.7C951.9 695.1 960.1 690.7 968.9 685.8C977.8 680.9 987.6 675.5 997 670.4C1006.5 665.3 1016.1 660.2 1025.6 655.1C1035.1 650.1 1044.6 645 1054.1 640.2C1063.6 635.4 1073.1 630.6 1082.6 626.2C1092.2 621.8 1101.4 617.9 1111.4 613.7C1121.5 609.5 1131.2 606 1142.8 601C1154.4 596 1167.7 590.2 1181.1 583.6C1194.4 577 1209.8 569.2 1223.1 561.4C1236.4 553.5 1249.2 544.6 1261.1 536.6C1273 528.7 1283.1 520.8 1294.4 513.6C1305.7 506.4 1316.9 499.5 1328.8 493.6C1340.6 487.8 1353.4 482.6 1365.7 478.5C1378 474.4 1391 471.2 1402.6 469.1C1414.3 466.9 1425.9 465.7 1435.8 465.7C1445.7 465.7 1454.8 466.9 1462.3 469.1C1469.8 471.3 1476.2 474.6 1480.7 479C1485.3 483.4 1488.4 489.1 1489.8 495.7C1491.2 502.3 1490.4 510.2 1489 518.7C1487.5 527.1 1484.2 537.1 1481 546.4C1477.9 555.7 1473.9 565 1470.3 574.7C1466.7 584.3 1462.8 594.3 1459.5 604.3C1456.2 614.3 1453.1 624.5 1450.7 634.6C1448.3 644.7 1446.8 654.9 1445 664.9C1443.3 674.9 1442.2 684.9 1440.1 694.5C1438.1 704 1436 712.8 1432.8 722.2C1429.5 731.5 1425.7 740.5 1420.7 750.7C1415.7 760.9 1409.3 772.4 1403.1 783.6C1396.9 794.8 1389.6 807.1 1383.5 817.9C1377.3 828.8 1371.7 838.7 1366.2 848.6C1360.6 858.6 1355.4 868 1350.4 877.6C1345.4 887.2 1340.7 896.8 1336.1 906.4C1331.4 916 1326.9 925.6 1322.5 935.2C1318 944.8 1313.9 954.4 1309.1 964C1304.4 973.6 1299.9 982.8 1294 992.8C1288.1 1002.7 1281.6 1012.5 1273.7 1023.9C1265.9 1035.4 1256.6 1049.3 1247.1 1061.4C1237.5 1073.5 1227 1085.6 1216.5 1096.4C1206.1 1107.1 1194.6 1117.2 1184.3 1125.8C1173.9 1134.4 1164.2 1141.5 1154.5 1148C1144.7 1154.6 1136.6 1158.4 1125.9 1165C1115.3 1171.6 1102.7 1179.1 1090.5 1187.8C1078.2 1196.4 1065.1 1207.4 1052.5 1217C1039.8 1226.7 1027.1 1237.1 1014.4 1245.8C1001.7 1254.5 989.1 1262.1 976.4 1269C963.7 1275.9 951.1 1281.5 938.4 1287.2C925.7 1293 913 1298 900.3 1303.5C887.6 1309 875 1314.6 862.3 1320.2C849.6 1325.7 837 1331.6 824.3 1336.7C811.6 1341.7 799 1346.7 786.3 1350.6C773.6 1354.6 760.9 1357.3 748.3 1360.2C735.6 1363.1 722.8 1365 710.4 1368C698 1371 685.7 1374.2 674 1378.1C662.2 1382.1 651.8 1386.7 639.9 1391.5C628.1 1396.3 615.7 1402.1 602.6 1407.1C589.6 1412.1 575.6 1417.5 561.9 1421.6C548.1 1425.7 534 1429.5 520.3 1431.8C506.6 1434 492.6 1435.2 479.7 1435C466.8 1434.9 453.6 1433.2 443.1 1430.7C432.6 1428.2 423.5 1424.5 416.8 1420C410.2 1415.4 406.3 1410.2 403.2 1403.6C400.2 1397.1 398.9 1389.5 398.6 1380.6Z"/>
<path d="M767 929.7C770.6 925.8 774.3 922.2 779.2 917.2C784.1 912.2 790.3 906 796.3 899.7C802.4 893.4 808.9 886.3 815.2 879.5C821.5 872.6 827.9 865.5 834.2 858.6C840.5 851.7 846.9 844.7 853.2 838.2C859.5 831.6 865.9 825.1 872.2 819.2C878.5 813.3 884.8 807.6 891.2 802.6C897.6 797.5 903.8 793.1 910.5 788.6C917.3 784.2 923.9 780.1 931.8 775.6C939.6 771.1 948.3 765.8 957.7 761.4C967.1 757 977.6 753.1 988.1 749.2C998.6 745.2 1009.9 741.4 1020.7 737.6C1031.5 733.8 1042.6 729.8 1052.9 726.2C1063.1 722.6 1072.9 719.2 1082.3 716.2C1091.6 713.2 1100.3 710.7 1109.1 708.2C1117.8 705.8 1124.8 704.8 1134.8 701.7C1144.8 698.6 1156.9 694 1168.9 689.6C1181 685.3 1194.3 680.2 1207 675.5C1219.7 670.9 1232.8 666.1 1245.4 661.6C1257.9 657.2 1270.9 652.6 1282.1 649.1C1293.3 645.5 1304 642.3 1312.5 640.2C1321.1 638.2 1327.5 637.2 1333.4 636.7C1339.2 636.1 1343.3 636.3 1347.6 637C1351.9 637.8 1355.7 639 1359.3 641.1C1362.9 643.2 1366.3 646.2 1369.2 649.7C1372.2 653.1 1374.8 657.5 1376.9 661.8C1379.1 666.1 1380.7 670.9 1382.1 675.5C1383.4 680.2 1384.3 684.9 1384.9 689.6C1385.5 694.3 1385.8 699 1385.8 703.7C1385.8 708.4 1385.4 713.1 1384.8 717.8C1384.1 722.5 1383 727.2 1381.8 731.9C1380.5 736.6 1379 741.3 1377.1 746C1375.3 750.8 1373.2 755.1 1370.7 760.2C1368.2 765.4 1365.5 770.3 1362.1 776.8C1358.7 783.4 1354.5 792.3 1350.3 799.5C1346 806.7 1341.5 813 1336.7 819.8C1331.9 826.6 1326.7 832.5 1321.3 840.2C1315.9 847.9 1309.7 857.4 1304.4 866.1C1299.1 874.8 1293.9 884 1289.4 892.3C1284.8 900.6 1281.5 907.2 1277.2 916C1272.8 924.7 1268 935 1263.2 944.9C1258.5 954.7 1254.6 964.2 1248.5 975.1C1242.4 986 1235.1 998.6 1226.6 1010.3C1218 1022 1207.7 1034.7 1197.3 1045.4C1186.9 1056.1 1175.2 1065.5 1164.2 1074.6C1153.2 1083.8 1141.8 1092.5 1131.3 1100.5C1120.8 1108.5 1110.7 1115.7 1101.1 1122.5C1091.5 1129.3 1082.3 1135.6 1073.7 1141.3C1065.1 1146.9 1057.3 1152.1 1049.6 1156.4C1042 1160.8 1034.4 1164.7 1027.7 1167.5C1021 1170.3 1014.8 1172.2 1009.4 1173.1C1003.9 1174 999.9 1172.9 995.2 1172.8C992.3 1166.5 989.4 1160.1 986.5 1153.8C987.3 1149 988.3 1144.4 989 1139.5C989.8 1134.7 990.5 1129.7 991 1124.9C991.6 1120.1 992.2 1115.1 992.2 1110.8C992.2 1106.5 992 1102.6 991.3 1099.1C990.6 1095.6 989.7 1092.5 988.1 1089.7C986.6 1086.9 984.8 1084.8 982 1082.5C979.1 1080.3 975.5 1078.6 971.2 1076.3C966.9 1074 961.8 1071.5 956.3 1068.6C950.8 1065.8 944.6 1062.4 938.4 1059.2C932.2 1056.1 926.4 1053.1 919.2 1049.8C912 1046.5 904.6 1043.1 895.4 1039.6C886.3 1036.1 873.7 1031.8 864.2 1028.7C854.8 1025.6 846.4 1023.2 838.7 1021C830.9 1018.7 824.3 1016.9 817.8 1015.1C811.3 1013.4 805.6 1011.8 799.7 1010.5C793.8 1009.3 788.2 1008.3 782.4 1007.6C776.5 1007 770.7 1006.8 764.6 1006.7C758.4 1006.6 751.7 1007 745.5 1007.1C739.3 1007.3 732.8 1007.6 727.4 1007.6C722 1007.6 718 1007.2 713.3 1007C712.1 1002.7 710.9 998.5 709.7 994.2C711.9 991.1 713.7 988.2 716.2 984.9C718.7 981.6 721.6 978 724.7 974.5C727.9 971 731.6 967.6 735.2 964C738.8 960.4 742.5 956.7 746.3 952.8C750 949 754.3 944.7 757.7 940.8C761.2 937 763.5 933.7 767 929.7Z"/>
<path d="M636.3 1060.9C638.2 1062.7 640.1 1064.4 642 1066.2C641.1 1070.3 640.4 1073.9 639.3 1078.5C638.3 1083.2 636.9 1088.7 635.6 1094.1C634.3 1099.5 632.8 1104.8 631.7 1110.8C630.5 1116.8 629.7 1122.1 628.6 1130.3C627.5 1138.4 626.8 1149.5 625.1 1159.9C623.5 1170.4 621.2 1182.8 618.8 1193C616.3 1203.2 613.5 1211.5 610.5 1221C607.4 1230.5 603.6 1240.1 600.5 1250C597.4 1259.8 594.1 1270.3 591.8 1279.9C589.4 1289.6 587.9 1299.5 586.4 1307.7C584.8 1316 584.5 1322.6 582.5 1329.5C580.4 1336.3 578.3 1342.7 574.2 1349C570.1 1355.3 564.3 1362.2 557.9 1367.4C551.4 1372.6 543.1 1377 535.6 1380.2C528.1 1383.4 520 1385.5 512.8 1386.4C505.5 1387.4 498 1387 492.2 1385.9C486.4 1384.8 481.6 1382.7 477.8 1379.9C474 1377.2 470.9 1373.9 469.4 1369.4C467.8 1364.8 467.4 1359.3 468.3 1352.6C469.2 1345.8 471.5 1338 474.5 1329C477.6 1320 482.1 1309.2 486.5 1298.5C491 1287.9 496.3 1276.3 501.1 1265C505.8 1253.7 511 1242.2 515.2 1230.7C519.5 1219.2 523.3 1207.3 526.6 1196.1C530 1184.8 532.3 1172.8 535.4 1163.2C538.5 1153.6 541.2 1146.2 545.3 1138.4C549.3 1130.6 554.6 1122.8 559.6 1116.3C564.5 1109.9 569.7 1104.9 574.9 1099.9C580.2 1094.9 585.8 1090.4 591 1086.4C596.3 1082.3 601.6 1078.6 606.2 1075.5C610.8 1072.3 615.1 1069.6 618.7 1067.6C622.4 1065.6 625.2 1064.5 628.2 1063.3C631.1 1062.2 633.6 1061.7 636.3 1060.9Z"/>
<path d="M1053.3 851.1C1056.1 848.6 1058.6 846.3 1061.6 843.5C1064.5 840.7 1067.4 837.4 1071.2 834.5C1074.9 831.5 1079.3 828.8 1084 825.8C1088.7 822.8 1094 819.5 1099.3 816.5C1104.6 813.5 1110.2 810.7 1115.8 807.6C1121.5 804.5 1127.5 801 1133.2 797.9C1138.9 794.8 1144.2 792 1149.8 788.9C1155.3 785.9 1160.6 782.9 1166.4 779.9C1172.2 776.8 1178.3 773.6 1184.5 770.7C1190.6 767.7 1196.9 764.6 1203.4 761.9C1209.8 759.3 1216.5 756.8 1222.9 754.9C1229.3 752.9 1236 751.1 1241.8 750C1247.7 748.9 1253.1 748.3 1258.1 748.3C1263 748.2 1267.5 748.7 1271.4 749.9C1275.2 751.2 1278.8 753.1 1281.3 755.6C1283.8 758.1 1285.7 761.2 1286.4 764.8C1287.2 768.3 1287 772.4 1285.9 777C1284.8 781.7 1282.7 787.1 1279.8 792.7C1276.9 798.2 1272.8 804.6 1268.4 810.5C1264 816.4 1258.6 822.6 1253.5 828.1C1248.4 833.5 1242.9 838.6 1237.6 843.3C1232.4 848.1 1227 852.5 1222 856.7C1216.9 860.8 1212.1 864.8 1207.4 868.1C1202.7 871.5 1198.1 874.4 1193.8 876.7C1189.5 878.9 1185.2 880.7 1181.4 881.6C1177.5 882.5 1174.4 882.6 1170.8 882C1167.2 881.3 1163.7 879.7 1159.7 877.8C1155.8 875.9 1151.3 872.9 1147.1 870.5C1142.8 868.1 1138.4 865.3 1134.1 863.3C1129.7 861.4 1125.7 859.7 1121.1 858.7C1116.5 857.6 1111.6 857.2 1106.5 857C1101.3 856.7 1095.4 857.1 1090 857.2C1084.6 857.3 1078.9 857.7 1074.1 857.7C1069.4 857.8 1065.6 857.7 1061.3 857.7C1058.6 855.5 1056 853.3 1053.3 851.1Z"/>
</g>
<g class="ax">
<line x1="1801.9" y1="1628.8" x2="2334.9" y2="1628.8" stroke-width="8.8"/>
<line x1="2068.4" y1="1529.5" x2="2068.4" y2="1728.1" stroke-width="8.6"/>
<line x1="1801.9" y1="1612.3" x2="1801.9" y2="1645.3" stroke-width="5.8"/>
<line x1="2051.9" y1="1529.5" x2="2084.9" y2="1529.5" stroke-width="5.8"/>
<line x1="2334.9" y1="1612.3" x2="2334.9" y2="1645.3" stroke-width="5.8"/>
<line x1="2051.9" y1="1728.1" x2="2084.9" y2="1728.1" stroke-width="5.8"/>
</g>
<g class="ax">
<line x1="2416" y1="1806.5" x2="2416" y2="1787.5" stroke-width="5.8"/>
<line x1="2416" y1="30.4" x2="2416" y2="49.4" stroke-width="5.8"/>
<line x1="2329.1" y1="1806.5" x2="2329.1" y2="1795.5" stroke-width="3.5"/>
<line x1="2329.1" y1="30.4" x2="2329.1" y2="41.4" stroke-width="3.5"/>
<line x1="2242.2" y1="1806.5" x2="2242.2" y2="1795.5" stroke-width="3.5"/>
<line x1="2242.2" y1="30.4" x2="2242.2" y2="41.4" stroke-width="3.5"/>
<line x1="2155.3" y1="1806.5" x2="2155.3" y2="1795.5" stroke-width="3.5"/>
<line x1="2155.3" y1="30.4" x2="2155.3" y2="41.4" stroke-width="3.5"/>
<line x1="2068.4" y1="1806.5" x2="2068.4" y2="1787.5" stroke-width="5.8"/>
<line x1="2068.4" y1="30.4" x2="2068.4" y2="49.4" stroke-width="5.8"/>
<line x1="1981.5" y1="1806.5" x2="1981.5" y2="1795.5" stroke-width="3.5"/>
<line x1="1981.5" y1="30.4" x2="1981.5" y2="41.4" stroke-width="3.5"/>
<line x1="1894.6" y1="1806.5" x2="1894.6" y2="1795.5" stroke-width="3.5"/>
<line x1="1894.6" y1="30.4" x2="1894.6" y2="41.4" stroke-width="3.5"/>
<line x1="1807.7" y1="1806.5" x2="1807.7" y2="1795.5" stroke-width="3.5"/>
<line x1="1807.7" y1="30.4" x2="1807.7" y2="41.4" stroke-width="3.5"/>
<line x1="1720.8" y1="1806.5" x2="1720.8" y2="1787.5" stroke-width="5.8"/>
<line x1="1720.8" y1="30.4" x2="1720.8" y2="49.4" stroke-width="5.8"/>
<line x1="1633.9" y1="1806.5" x2="1633.9" y2="1795.5" stroke-width="3.5"/>
<line x1="1633.9" y1="30.4" x2="1633.9" y2="41.4" stroke-width="3.5"/>
<line x1="1547" y1="1806.5" x2="1547" y2="1795.5" stroke-width="3.5"/>
<line x1="1547" y1="30.4" x2="1547" y2="41.4" stroke-width="3.5"/>
<line x1="1460.1" y1="1806.5" x2="1460.1" y2="1795.5" stroke-width="3.5"/>
<line x1="1460.1" y1="30.4" x2="1460.1" y2="41.4" stroke-width="3.5"/>
<line x1="1373.2" y1="1806.5" x2="1373.2" y2="1787.5" stroke-width="5.8"/>
<line x1="1373.2" y1="30.4" x2="1373.2" y2="49.4" stroke-width="5.8"/>
<line x1="1286.3" y1="1806.5" x2="1286.3" y2="1795.5" stroke-width="3.5"/>
<line x1="1286.3" y1="30.4" x2="1286.3" y2="41.4" stroke-width="3.5"/>
<line x1="1199.4" y1="1806.5" x2="1199.4" y2="1795.5" stroke-width="3.5"/>
<line x1="1199.4" y1="30.4" x2="1199.4" y2="41.4" stroke-width="3.5"/>
<line x1="1112.5" y1="1806.5" x2="1112.5" y2="1795.5" stroke-width="3.5"/>
<line x1="1112.5" y1="30.4" x2="1112.5" y2="41.4" stroke-width="3.5"/>
<line x1="1025.6" y1="1806.5" x2="1025.6" y2="1787.5" stroke-width="5.8"/>
<line x1="1025.6" y1="30.4" x2="1025.6" y2="49.4" stroke-width="5.8"/>
<line x1="938.7" y1="1806.5" x2="938.7" y2="1795.5" stroke-width="3.5"/>
<line x1="938.7" y1="30.4" x2="938.7" y2="41.4" stroke-width="3.5"/>
<line x1="851.8" y1="1806.5" x2="851.8" y2="1795.5" stroke-width="3.5"/>
<line x1="851.8" y1="30.4" x2="851.8" y2="41.4" stroke-width="3.5"/>
<line x1="764.9" y1="1806.5" x2="764.9" y2="1795.5" stroke-width="3.5"/>
<line x1="764.9" y1="30.4" x2="764.9" y2="41.4" stroke-width="3.5"/>
<line x1="678" y1="1806.5" x2="678" y2="1787.5" stroke-width="5.8"/>
<line x1="678" y1="30.4" x2="678" y2="49.4" stroke-width="5.8"/>
<line x1="591.1" y1="1806.5" x2="591.1" y2="1795.5" stroke-width="3.5"/>
<line x1="591.1" y1="30.4" x2="591.1" y2="41.4" stroke-width="3.5"/>
<line x1="504.2" y1="1806.5" x2="504.2" y2="1795.5" stroke-width="3.5"/>
<line x1="504.2" y1="30.4" x2="504.2" y2="41.4" stroke-width="3.5"/>
<line x1="417.3" y1="1806.5" x2="417.3" y2="1795.5" stroke-width="3.5"/>
<line x1="417.3" y1="30.4" x2="417.3" y2="41.4" stroke-width="3.5"/>
<line x1="330.4" y1="30.4" x2="349.4" y2="30.4" stroke-width="5.8"/>
<line x1="2416" y1="30.4" x2="2397" y2="30.4" stroke-width="5.8"/>
<line x1="330.4" y1="208" x2="341.4" y2="208" stroke-width="3.5"/>
<line x1="2416" y1="208" x2="2405" y2="208" stroke-width="3.5"/>
<line x1="330.4" y1="385.6" x2="341.4" y2="385.6" stroke-width="3.5"/>
<line x1="2416" y1="385.6" x2="2405" y2="385.6" stroke-width="3.5"/>
<line x1="330.4" y1="563.2" x2="341.4" y2="563.2" stroke-width="3.5"/>
<line x1="2416" y1="563.2" x2="2405" y2="563.2" stroke-width="3.5"/>
<line x1="330.4" y1="740.8" x2="341.4" y2="740.8" stroke-width="3.5"/>
<line x1="2416" y1="740.8" x2="2405" y2="740.8" stroke-width="3.5"/>
<line x1="330.4" y1="918.4" x2="349.4" y2="918.4" stroke-width="5.8"/>
<line x1="2416" y1="918.4" x2="2397" y2="918.4" stroke-width="5.8"/>
<line x1="330.4" y1="1096.1" x2="341.4" y2="1096.1" stroke-width="3.5"/>
<line x1="2416" y1="1096.1" x2="2405" y2="1096.1" stroke-width="3.5"/>
<line x1="330.4" y1="1273.7" x2="341.4" y2="1273.7" stroke-width="3.5"/>
<line x1="2416" y1="1273.7" x2="2405" y2="1273.7" stroke-width="3.5"/>
<line x1="330.4" y1="1451.3" x2="341.4" y2="1451.3" stroke-width="3.5"/>
<line x1="2416" y1="1451.3" x2="2405" y2="1451.3" stroke-width="3.5"/>
<line x1="330.4" y1="1628.9" x2="341.4" y2="1628.9" stroke-width="3.5"/>
<line x1="2416" y1="1628.9" x2="2405" y2="1628.9" stroke-width="3.5"/>
<line x1="330.4" y1="1806.5" x2="349.4" y2="1806.5" stroke-width="5.8"/>
<line x1="2416" y1="1806.5" x2="2397" y2="1806.5" stroke-width="5.8"/>
<rect x="330.4" y="30.4" width="2085.6" height="1776.1" stroke-width="4.6"/>
</g>
<text x="177.3" y="62.9" font-size="92" text-anchor="start" textLength="131.3" lengthAdjust="spacingAndGlyphs">0.5</text>
<text x="176.9" y="951.2" font-size="92" text-anchor="start" textLength="132.4" lengthAdjust="spacingAndGlyphs">0.0</text>
<text x="108.5" y="1838.6" font-size="92" text-anchor="start" textLength="199.1" lengthAdjust="spacingAndGlyphs">−0.5</text>
<text x="624.6" y="1891" font-size="92" text-anchor="start" textLength="107.6" lengthAdjust="spacingAndGlyphs">10</text>
<text x="998.7" y="1891" font-size="92" text-anchor="start" textLength="53.2" lengthAdjust="spacingAndGlyphs">8</text>
<text x="1347" y="1891" font-size="92" text-anchor="start" textLength="53.5" lengthAdjust="spacingAndGlyphs">6</text>
<text x="1694.3" y="1891" font-size="92" text-anchor="start" textLength="52.5" lengthAdjust="spacingAndGlyphs">4</text>
<text x="2042" y="1891" font-size="92" text-anchor="start" textLength="50.9" lengthAdjust="spacingAndGlyphs">2</text>
<text x="2389.3" y="1891" font-size="92" text-anchor="start" textLength="52.6" lengthAdjust="spacingAndGlyphs">0</text>
<text x="1167" y="1994.9" font-size="92" text-anchor="start" textLength="412.2" lengthAdjust="spacingAndGlyphs">Age [Gyr]</text>
<text x="715.3" y="143.3" font-size="70.5" text-anchor="start" textLength="549.3" lengthAdjust="spacingAndGlyphs">young sequence</text>
<text x="712.1" y="244" font-size="70.5" text-anchor="start" textLength="447.2" lengthAdjust="spacingAndGlyphs">old sequence</text>
<text x="1582.8" y="142.8" font-size="70.5" text-anchor="start" textLength="637.2" lengthAdjust="spacingAndGlyphs">Nissen Young Stars</text>
<text x="1582.8" y="243.3" font-size="70.5" text-anchor="start" textLength="550.6" lengthAdjust="spacingAndGlyphs">Nissen Old Stars</text>
<text x="-6.6" y="0" font-size="92" text-anchor="start" textLength="478.2" lengthAdjust="spacingAndGlyphs" transform="translate(65.5 1151.3) rotate(-90)">[Fe/H][dex]</text>
<circle cx="593.6" cy="119.6" r="24.2" fill="#2f86eb"/>
<circle cx="593.6" cy="220.3" r="24.2" fill="#ff6600"/>
<circle cx="1464.2" cy="119.9" r="24.3" fill="#4466ff"/>
<circle cx="1464.2" cy="220.4" r="24.3" fill="#ff0000"/>
</svg>
</body></html>
